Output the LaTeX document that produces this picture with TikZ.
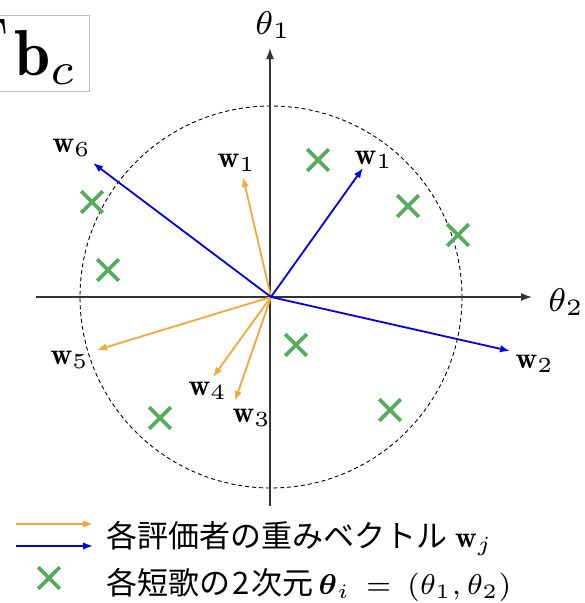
\RequirePackage{fix-cm}
\documentclass[tikz,border=0pt]{standalone}
\usepackage{amsmath}
\usepackage{graphicx}
\usepackage{fontspec}
\newfontfamily\jpfont{Noto Sans CJK JP}
\usetikzlibrary{arrows.meta,shapes.misc}
\definecolor{worange}{RGB}{243,168,56}
\definecolor{wblue}{RGB}{0,0,240}
\definecolor{tgreen}{RGB}{84,172,92}
\newcommand\SM[2]{\scalebox{#1}{\fontsize{10}{12}\selectfont$#2$}}
\newcommand\SMs[2]{\scalebox{#1}{\fontsize{7}{8}\selectfont$#2$}}
\tikzset{
  axisline/.style={draw=black!80, line width=1.3pt, -{Latex[length=11pt,width=8pt]}},
  vec/.style={line width=1.8pt, -{Latex[length=10pt,width=7.5pt]}},
  ovec/.style={vec, draw=worange},
  bvec/.style={vec, draw=wblue},
  wlabel/.style={inner sep=0pt},
  thlabel/.style={inner sep=0pt},
  tanka/.style={cross out, draw=tgreen, line width=3.6pt, minimum size=18pt, inner sep=0pt},
  legtext/.style={font=\fontsize{31}{36}\selectfont\jpfont, inner sep=0pt, anchor=base west}
}
\begin{document}
\begin{tikzpicture}[x=1pt,y=-1pt]
\useasboundingbox (0,0) rectangle (585,603);
% top-left boxed formula (cropped)
\draw[black!25, line width=0.8pt] (-20,15) -- (89,15) -- (89,91) -- (-20,91);
\node[inner sep=0pt, anchor=north east] (tT) at (9,19) {\SM{6.5}{\mathrm{T}}};
\node[inner sep=0pt, anchor=base east] (bc) at (77,75) {\SM{6.5}{\mathbf{b}_c}};
% circle
\coordinate (O) at (271,297);
\draw[black, line width=0.9pt, dash pattern=on 4pt off 3pt] (O) circle[radius=191];
% axes
\coordinate (xl) at (36,297);
\coordinate (xr) at (532,297);
\coordinate (yb) at (270,506);
\coordinate (yt) at (270,48);
\draw[axisline] (xl) -- (xr);
\draw[axisline] (yb) -- (yt);
\node[thlabel] (th1) at (273,25) {\SMs{4.7}{\theta_1}};
\node[thlabel] (th2) at (566,302) {\SMs{4.7}{\theta_2}};
% tanka points
\node[tanka] (p1) at (318,160) {};
\node[tanka] (p2) at (408,206) {};
\node[tanka] (p3) at (458,235) {};
\node[tanka] (p4) at (92,202) {};
\node[tanka] (p5) at (108,270) {};
\node[tanka] (p6) at (296,345) {};
\node[tanka] (p7) at (160,418) {};
\node[tanka] (p8) at (390,410) {};
% vectors
\coordinate (tb1) at (363,168);
\coordinate (to1) at (243,177);
\coordinate (tb6) at (93,163);
\coordinate (to5) at (97,350);
\coordinate (to4) at (213,377);
\coordinate (to3) at (235,401);
\coordinate (tb2) at (510,351);
\draw[ovec] (O) -- (to1);
\draw[ovec] (O) -- (to5);
\draw[ovec] (O) -- (to4);
\draw[ovec] (O) -- (to3);
\draw[bvec] (O) -- (tb1);
\draw[bvec] (O) -- (tb6);
\draw[bvec] (O) -- (tb2);
\node[wlabel] (lb1) at (374,160) {\SMs{4.3}{\mathbf{w}_1}};
\node[wlabel] (lo1) at (237,163) {\SMs{4.3}{\mathbf{w}_1}};
\node[wlabel] (lb6) at (72,148) {\SMs{4.3}{\mathbf{w}_6}};
\node[wlabel] (lo5) at (70,360) {\SMs{4.3}{\mathbf{w}_5}};
\node[wlabel] (lo4) at (208,391) {\SMs{4.3}{\mathbf{w}_4}};
\node[wlabel] (lo3) at (252,418) {\SMs{4.3}{\mathbf{w}_3}};
\node[wlabel] (lb2) at (535,364) {\SMs{4.3}{\mathbf{w}_2}};
% legend
\coordinate (la1) at (16,524);
\coordinate (la2) at (93,524);
\coordinate (lb1s) at (16,546);
\coordinate (lb2s) at (93,546);
\draw[ovec] (la1) -- (la2);
\draw[bvec] (lb1s) -- (lb2s);
\node[tanka] (lx) at (49,578) {};
\node[legtext] (t1) at (106,547) {各評価者の重みベクトル\hspace{8pt}\SMs{4.3}{\mathbf{w}_j}};
\node[legtext] (t2) at (106,594) {各短歌の\hspace{2pt}2\hspace{2pt}次元\hspace{5pt}\SMs{4.1}{\boldsymbol{\theta}_i\ =\ (\theta_1,\theta_2)}};
\end{tikzpicture}
\end{document}
